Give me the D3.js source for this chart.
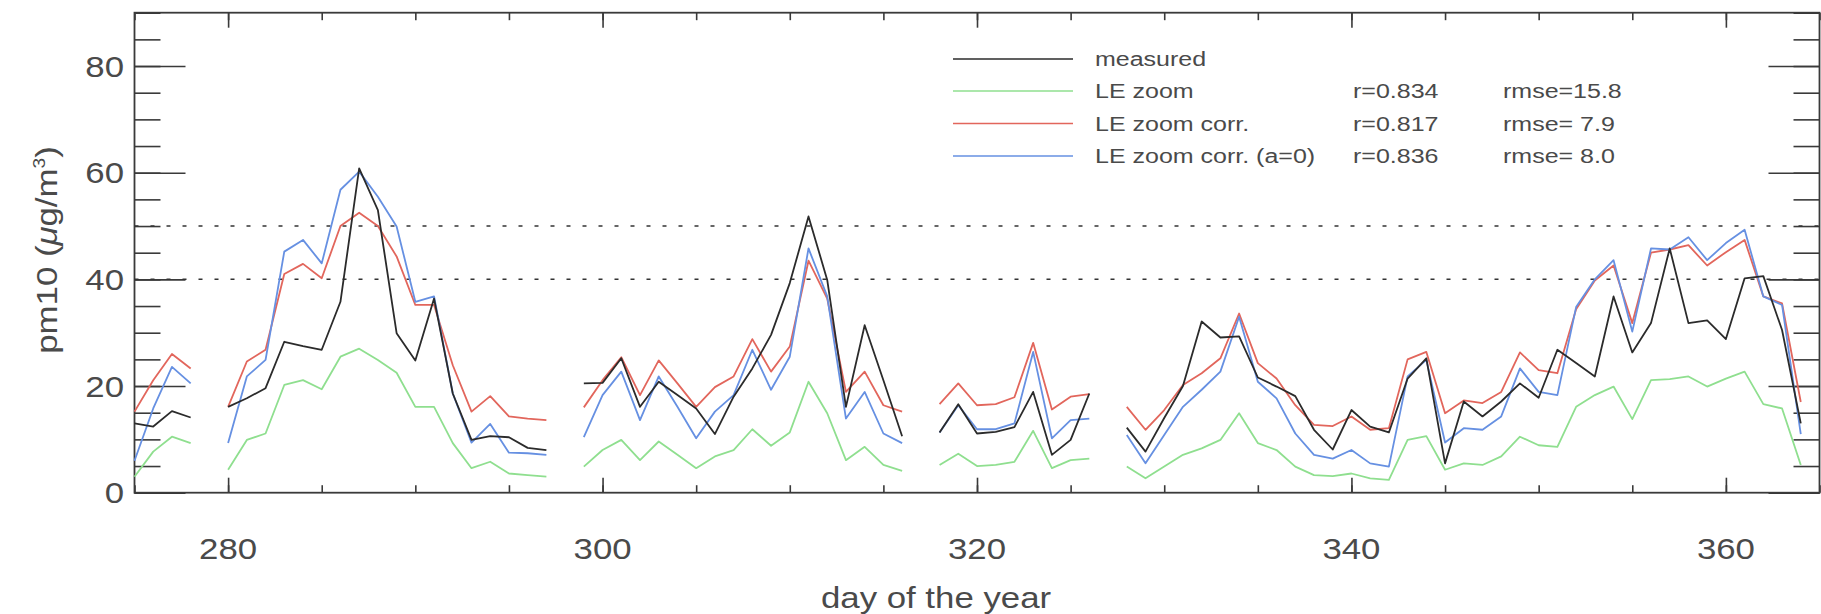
<!DOCTYPE html>
<html>
<head>
<meta charset="utf-8">
<script src="https://cdn.jsdelivr.net/npm/d3@7"></script>
<style>
  body { margin: 0; background: #fff; }
  text { font-family: "Liberation Sans", Arial, sans-serif; fill: #4a4a4a; }
</style>
</head>
<body>
<svg id="viz-container" width="1821" height="614"></svg>
<script>
// day of the year, null values are the gaps in the series
var days = [275,276,277,278,279,280,281,282,283,284,285,286,287,288,289,290,291,292,293,294,
  295,296,297,298,299,300,301,302,303,304,305,306,307,308,309,310,311,312,313,314,
  315,316,317,318,319,320,321,322,323,324,325,326,327,328,329,330,331,332,333,334,
  335,336,337,338,339,340,341,342,343,344,345,346,347,348,349,350,351,352,353,354,
  355,356,357,358,359,360,361,362,363,364];

var measured = [13,12.4,15.3,14.1,null,16.1,17.7,19.6,28.3,27.5,26.8,35.8,60.8,53,29.9,24.8,36.4,18.6,9.9,10.6,
  10.4,8.4,8,null,20.5,20.6,25.2,16.1,20.8,18.3,15.8,11,18,23.3,29.6,39.3,51.8,39.9,16.1,31.4,
  21.1,10.6,null,11.3,16.6,11.1,11.4,12.3,18.9,7.1,9.9,18.6,null,12.2,7.7,14,20,32.1,29.1,29.3,
  21.6,19.9,18.1,11.8,8.1,15.5,12.4,11.3,21.4,25.2,5.5,17.1,14.3,17.1,20.5,17.8,26.8,24.3,21.8,36.8,
  26.3,31.8,45.8,31.8,32.3,28.8,40.2,40.6,30.5,13];

var le_zoom = [3,7.7,10.5,9.3,null,4.3,9.9,11.1,20.2,21.1,19.4,25.5,27,24.9,22.5,16.1,16.1,9.3,4.6,5.8,
  3.6,3.3,3,null,4.9,8,9.9,6.1,9.6,7.1,4.6,6.8,8,11.9,8.8,11.3,20.8,14.9,6.1,8.6,
  5.2,4.1,null,5.2,7.3,5,5.2,5.8,11.6,4.6,6.1,6.4,null,4.9,2.7,4.9,7.1,8.3,9.9,14.9,
  9.3,8,4.9,3.3,3.1,3.6,2.7,2.4,9.9,10.6,4.3,5.5,5.2,6.8,10.5,8.9,8.6,16.1,18.3,19.9,
  13.8,21.1,21.3,21.8,19.9,21.4,22.7,16.6,15.8,5.2];

var le_zoom_corr = [15.2,21.1,26,23.3,null,16.1,24.6,26.8,41,42.9,40.2,50,52.5,50,44.3,35.2,35.2,23.9,15.2,18.1,
  14.3,13.9,13.6,null,16,21.1,25.4,18.3,24.8,20.5,16.1,19.8,21.8,28.8,22.7,27.4,43.5,36.4,18.9,22.7,
  16.4,15.2,null,16.6,20.5,16.4,16.6,17.9,28.1,15.6,18,18.5,null,16.1,11.8,15.5,20.2,22.4,25.2,33.6,
  24.3,21.4,16.4,12.7,12.5,14.3,11.8,12.1,25,26.4,14.9,17.3,16.8,18.9,26.3,23,22.4,34.4,39.8,42.6,
  31.8,45,45.6,46.4,42.6,45.1,47.4,36.8,35.5,17];

var le_zoom_corr_a0 = [6,15.8,23.6,20.5,null,9.3,21.8,24.9,45.2,47.4,43,56.8,60.2,55.5,49.9,35.8,36.8,18.6,9.4,12.9,
  7.5,7.4,7.1,null,10.4,18.3,22.7,13.6,21.8,16.1,10.2,15.2,18.3,26.8,19.3,25.5,45.8,36.8,13.9,18.9,
  11.1,9.3,null,11.3,16.4,11.9,11.9,13,26.4,10.2,13.6,13.9,null,10.8,5.5,10.8,16.1,19.3,22.7,33,
  20.8,17.7,11.1,7.1,6.4,8,5.5,4.9,21.8,24.9,9.4,12.1,11.8,14.3,23.3,18.9,18.3,34.8,40,43.6,
  30.2,45.8,45.6,47.9,43.6,46.8,49.3,36.8,35.2,11];

// legend texts and statistics
var series_names = ["measured", "LE zoom", "LE zoom corr.", "LE zoom corr. (a=0)"];
var series_r = [null, "r=0.834", "r=0.817", "r=0.836"];
var series_rmse = [null, "rmse=15.8", "rmse=\u00a07.9", "rmse=\u00a08.0"];
var series_colors = ["#2b2b2b", "#8fdf8f", "#e2665c", "#6690e2"];

// tick labels and limit lines
var x_ticks_major = [280, 300, 320, 340, 360];
var y_ticks_major = [0, 20, 40, 60, 80];
var limit_lines = [40, 50];

var svg = d3.select("#viz-container");

// plot box (note: "top" is taken by window.top, hence the prefix)
var plot_left = 134.5
  , plot_right = 1819.5
  , plot_top = 12.7
  , plot_bottom = 492.7
  , stretch = 1.2;   // the original font runs wider than plain helvetica

var x = d3.scaleLinear().domain([275, 365]).range([plot_left, plot_right]);
var y = d3.scaleLinear().domain([0, 90]).range([plot_bottom, plot_top]);

var x_minor = d3.range(275, 366, 5)
  , y_minor = d3.range(0, 91, 5);

// ticks (inward, on all four sides)
function noDomain(g){ g.select(".domain").remove(); g.selectAll("line").attr("stroke","#3a3a3a").attr("stroke-width",1.6); }

svg.append("g").attr("transform","translate(0,"+plot_bottom+")")
  .call(d3.axisBottom(x).tickValues(x_minor).tickSize(-7.5).tickFormat("")).call(noDomain);
svg.append("g").attr("transform","translate(0,"+plot_bottom+")")
  .call(d3.axisBottom(x).tickValues(x_ticks_major).tickSize(-15).tickFormat("")).call(noDomain);
svg.append("g").attr("transform","translate(0,"+plot_top+")")
  .call(d3.axisTop(x).tickValues(x_minor).tickSize(-7.5).tickFormat("")).call(noDomain);
svg.append("g").attr("transform","translate(0,"+plot_top+")")
  .call(d3.axisTop(x).tickValues(x_ticks_major).tickSize(-15).tickFormat("")).call(noDomain);

svg.append("g").attr("transform","translate("+plot_left+",0)")
  .call(d3.axisLeft(y).tickValues(y_minor).tickSize(-26).tickFormat("")).call(noDomain);
svg.append("g").attr("transform","translate("+plot_left+",0)")
  .call(d3.axisLeft(y).tickValues(y_ticks_major).tickSize(-51).tickFormat("")).call(noDomain);
svg.append("g").attr("transform","translate("+plot_right+",0)")
  .call(d3.axisRight(y).tickValues(y_minor).tickSize(-26).tickFormat("")).call(noDomain);
svg.append("g").attr("transform","translate("+plot_right+",0)")
  .call(d3.axisRight(y).tickValues(y_ticks_major).tickSize(-51).tickFormat("")).call(noDomain);

// frame
svg.append("rect")
  .attr("x",plot_left).attr("y",plot_top)
  .attr("width",plot_right-plot_left).attr("height",plot_bottom-plot_top)
  .attr("fill","none").attr("stroke","#3a3a3a").attr("stroke-width",1.8);

// tick labels
svg.append("g").selectAll(".xlab")
  .data(x_ticks_major)
 .enter().append("g")
  .attr("transform",d => "translate("+x(d)+",559) scale("+stretch+",1)")
 .append("text")
  .attr("text-anchor","middle")
  .style("font-size","29px")
  .text(d => d);

svg.append("g").selectAll(".ylab")
  .data(y_ticks_major)
 .enter().append("g")
  .attr("transform",d => "translate(124,"+(y(d)+10.5)+") scale("+stretch+",1)")
 .append("text")
  .attr("text-anchor","end")
  .style("font-size","29px")
  .text(d => d);

// axis titles
svg.append("g")
  .attr("transform","translate(936,608) scale("+stretch+",1)")
 .append("text")
  .attr("text-anchor","middle")
  .style("font-size","29px")
  .text("day of the year");

var ytitle = svg.append("g")
  .attr("transform","translate(57,250) rotate(-90) scale("+stretch+",1)")
 .append("text")
  .attr("text-anchor","middle")
  .style("font-size","29px");
ytitle.append("tspan").text("pm10 (");
ytitle.append("tspan").style("font-style","italic").text("\u03bc");
ytitle.append("tspan").text("g/m");
ytitle.append("tspan").attr("dy",-12).style("font-size","16px").text("3");
ytitle.append("tspan").attr("dy",12).text(")");

// limit lines
svg.append("g").selectAll(".limit")
  .data(limit_lines)
 .enter().append("line")
  .attr("x1",plot_left).attr("x2",plot_right)
  .attr("y1",d => y(d)).attr("y2",d => y(d))
  .attr("stroke","#333").attr("stroke-width",1.5)
  .attr("stroke-dasharray","4,12");

// series lines, measured on top
var line = d3.line()
  .defined(d => d[1] != null)
  .x(d => x(d[0]))
  .y(d => y(d[1]));

var series = [measured, le_zoom, le_zoom_corr, le_zoom_corr_a0];
var draw_order = [1, 2, 3, 0];

svg.append("g").attr("id","lines-container")
  .selectAll(".series")
  .data(draw_order)
 .enter().append("path")
  .attr("fill","none")
  .attr("stroke",i => series_colors[i])
  .attr("stroke-width",1.8)
  .attr("stroke-linejoin","round")
  .attr("d",i => line(days.map((d,j) => [d, series[i][j]])));

// legend
var legend_rows = [59, 91, 123.5, 156];
var legend = svg.append("g").attr("id","legend");

legend.selectAll(".legline")
  .data(series_names)
 .enter().append("line")
  .attr("x1",953).attr("x2",1073)
  .attr("y1",(d,i) => legend_rows[i]).attr("y2",(d,i) => legend_rows[i])
  .attr("stroke",(d,i) => series_colors[i])
  .attr("stroke-width",1.6);

function legendText(data, xpos){
  legend.selectAll(null)
    .data(data)
   .enter().filter(d => d != null).append("g")
    .attr("transform",d => "translate("+xpos+","+(legend_rows[data.indexOf(d)]+7)+") scale(1.25,1)")
   .append("text")
    .style("font-size","20px")
    .text(d => d);
}
legendText(series_names, 1095);
legendText(series_r, 1353);
legendText(series_rmse, 1503);
</script>
</body>
</html>
